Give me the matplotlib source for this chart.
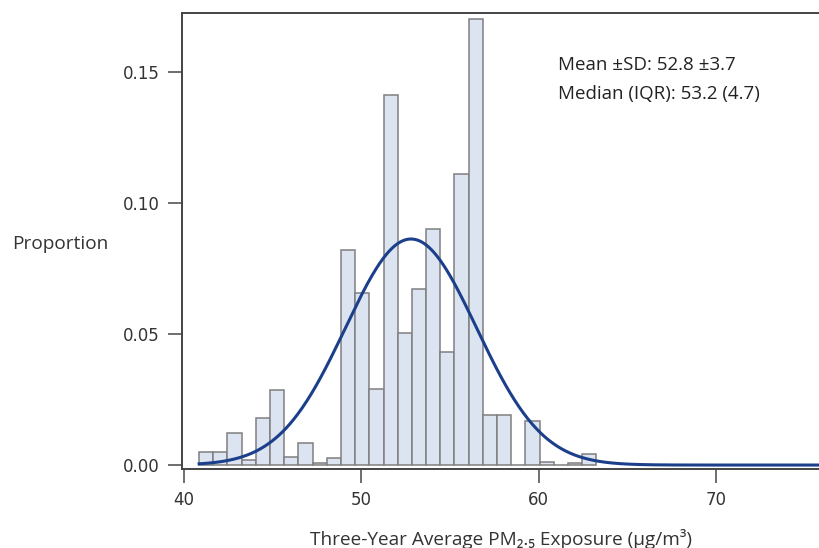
import numpy as np
import matplotlib
matplotlib.use("Agg")
import matplotlib.pyplot as plt

plt.rcParams['font.family'] = ['Open Sans', 'DejaVu Sans']

# histogram of three-year average PM2.5 exposure, bin width 0.8
bin_start = 40.85
bin_width = 0.8
proportions = [0.0051, 0.0048, 0.0121, 0.0019, 0.0178, 0.0286, 0.0032, 0.0085,
               0.0009, 0.0028, 0.0821, 0.0655, 0.0290, 0.1412, 0.0503, 0.0671,
               0.0900, 0.0433, 0.1111, 0.1702, 0.0191, 0.0191, 0.0, 0.0167,
               0.0012, 0.0, 0.0006, 0.0042]

mean_pm = 52.8
sd_pm = 3.7
median_pm = 53.2
iqr_pm = 4.7

edges = bin_start + bin_width * np.arange(len(proportions))

fig = plt.figure(figsize=(8.2, 5.48), dpi=100)
ax = fig.add_axes([0.222, 0.1442, 0.778, 0.8321])

ax.bar(edges, proportions, width=bin_width, align='edge',
       color='#dbe4f0', edgecolor='#7f7f7f', linewidth=1.1, zorder=2)

# normal curve scaled to proportion per bin
xs = np.linspace(bin_start, 78, 600)
pdf = np.exp(-0.5 * ((xs - mean_pm) / sd_pm) ** 2) / (sd_pm * np.sqrt(2 * np.pi))
ax.plot(xs, pdf * bin_width, color='#1c3f8c', linewidth=2.2, zorder=3)

ax.set_xlim(39.887, 75.87)
ax.set_ylim(-0.0015, 0.1725)
ax.set_xticks([40, 50, 60, 70])
ax.set_yticks([0.0, 0.05, 0.10, 0.15])
ax.set_yticklabels(['0.00', '0.05', '0.10', '0.15'])
ax.tick_params(axis='both', length=10, width=1.2, color='#555555',
               labelsize=12, labelcolor='#333333', pad=6)
for lab in ax.get_xticklabels() + ax.get_yticklabels():
    lab.set_family('DejaVu Sans')

for side in ['left', 'top', 'bottom']:
    ax.spines[side].set_color('#444444')
    ax.spines[side].set_linewidth(1.4)
ax.spines['right'].set_visible(False)

ax.set_xlabel('Three-Year Average PM\u2082.\u2085 Exposure (\u00b5g/m\u00b3)',
              fontsize=13.7, color='#333333', labelpad=14)
fig.text(0.015, 0.555, 'Proportion', fontsize=13.7, color='#333333',
         ha='left', va='center')

ax.text(0.589, 0.886, f'Mean \u00b1SD: {mean_pm} \u00b1{sd_pm}',
        transform=ax.transAxes, fontsize=13.5, color='#222222',
        ha='left', va='center')
ax.text(0.589, 0.822, f'Median (IQR): {median_pm} ({iqr_pm})',
        transform=ax.transAxes, fontsize=13.5, color='#222222',
        ha='left', va='center')

fig.savefig('out.png', dpi=100)
